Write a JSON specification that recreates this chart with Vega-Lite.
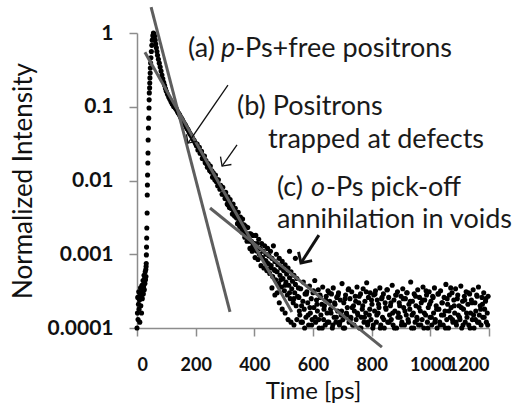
{
  "$schema": "https://vega.github.io/schema/vega-lite/v6.json",
  "width": 352,
  "height": 295,
  "autosize": {"type": "none"},
  "padding": {"left": 137, "top": 33, "right": 36, "bottom": 79},
  "background": "white",
  "config": {"view": {"stroke": null}, "font": "Lato"},
  "datasets": {
    "points": [
      {"t":0,"v":0.0001},{"t":1.5,"v":0.00016},{"t":2.5,"v":0.00026},{"t":3.5,"v":0.00013},{"t":5,"v":0.00021},{"t":6,"v":0.00031},{"t":7,"v":0.00018},{"t":8.5,"v":0.00024},{"t":9.5,"v":0.00012},{"t":11,"v":0.00028},{"t":12,"v":0.00035},{"t":13,"v":0.0002},{"t":14.5,"v":0.00027},{"t":15.5,"v":0.00016},{"t":17,"v":0.00038},{"t":18,"v":0.00025},{"t":19,"v":0.00031},{"t":20.5,"v":0.00044},{"t":21.5,"v":0.00029},{"t":22.5,"v":0.00036},{"t":24,"v":0.00052},{"t":25,"v":0.00033},{"t":26,"v":0.00047},{"t":27,"v":0.0004},{"t":28,"v":0.00058},{"t":29,"v":0.00045},{"t":30,"v":0.00062},{"t":30.5,"v":0.0005},{"t":31,"v":0.00068},{"t":31.5,"v":0.00075},
      {"t":32,"v":0.00098},{"t":32.5,"v":0.00125},{"t":33,"v":0.00166},{"t":33.5,"v":0.00227},{"t":34.5,"v":0.00362},{"t":35,"v":0.00636},{"t":35.5,"v":0.0087},{"t":36,"v":0.0119},{"t":37,"v":0.0173},{"t":37.5,"v":0.0236},{"t":38,"v":0.0354},{"t":39,"v":0.0515},{"t":40,"v":0.07},{"t":41,"v":0.096},{"t":41.5,"v":0.124},{"t":42,"v":0.154},{"t":43,"v":0.18},{"t":43.5,"v":0.21},{"t":44,"v":0.246},{"t":45,"v":0.287},{"t":45.5,"v":0.335},{"t":46.5,"v":0.392},{"t":47.5,"v":0.46},{"t":49,"v":0.56},{"t":50.5,"v":0.68},{"t":52,"v":0.8},{"t":54,"v":0.92},{"t":56,"v":1.0},{"t":58,"v":0.97},
      {"t":60,"v":0.9},{"t":62,"v":0.8},{"t":64,"v":0.71},{"t":66,"v":0.63},{"t":68,"v":0.56},{"t":70,"v":0.5},{"t":73,"v":0.44},{"t":76,"v":0.39},{"t":79,"v":0.345},{"t":82,"v":0.305},{"t":85,"v":0.27},{"t":88,"v":0.24},{"t":91,"v":0.215},{"t":94,"v":0.195},{"t":97,"v":0.177},{"t":100,"v":0.162},{"t":104,"v":0.148},{"t":108,"v":0.136},{"t":112,"v":0.126},{"t":116,"v":0.117},{"t":120,"v":0.109},{"t":125,"v":0.101},
      {"t":130,"v":0.097},{"t":132.5,"v":0.094},{"t":135,"v":0.092},{"t":137.5,"v":0.087},{"t":140,"v":0.083},{"t":142.5,"v":0.081},{"t":145,"v":0.078},{"t":147.5,"v":0.074},{"t":150,"v":0.071},{"t":152.5,"v":0.069},{"t":155,"v":0.066},{"t":157.5,"v":0.063},{"t":160,"v":0.0605},{"t":162.5,"v":0.058},{"t":165,"v":0.0565},{"t":167.5,"v":0.054},{"t":170,"v":0.0512},{"t":172.5,"v":0.05},{"t":175,"v":0.048},{"t":177.5,"v":0.0455},{"t":180,"v":0.0435},{"t":182.5,"v":0.042},{"t":185,"v":0.0408},{"t":187.5,"v":0.039},{"t":190,"v":0.037},{"t":192.5,"v":0.0357},{"t":195,"v":0.0347},{"t":197.5,"v":0.033},{"t":200,"v":0.0315},
      {"t":202.5,"v":0.0296},{"t":205,"v":0.0311},{"t":207.5,"v":0.0259},{"t":210,"v":0.0278},{"t":212.5,"v":0.0282},{"t":215,"v":0.0234},{"t":217.5,"v":0.0237},{"t":220,"v":0.0248},{"t":222.5,"v":0.0199},{"t":225,"v":0.0216},{"t":227.5,"v":0.0195},{"t":230,"v":0.0215},{"t":232.5,"v":0.0174},{"t":235,"v":0.0187},{"t":237.5,"v":0.0168},{"t":240,"v":0.0151},{"t":242.5,"v":0.017},{"t":245,"v":0.0153},{"t":247.5,"v":0.0137},{"t":250,"v":0.0157},{"t":252.5,"v":0.013},{"t":255,"v":0.0135},{"t":257.5,"v":0.0111},{"t":260,"v":0.0127},{"t":262.5,"v":0.0115},{"t":265,"v":0.0102},{"t":267.5,"v":0.0119},{"t":270,"v":0.0097},{"t":272.5,"v":0.0103},{"t":275,"v":0.0085},{"t":277.5,"v":0.0102},{"t":280,"v":0.0085},{"t":282.5,"v":0.0076},{"t":285,"v":0.0086},{"t":287.5,"v":0.0077},{"t":290,"v":0.0065},{"t":292.5,"v":0.0081},{"t":295,"v":0.0065},{"t":297.5,"v":0.0068},{"t":300,"v":0.0057},
      {"t":302.5,"v":0.0069},{"t":305,"v":0.0056},{"t":307.5,"v":0.0048},{"t":310,"v":0.006},{"t":312.5,"v":0.0052},{"t":315,"v":0.0043},{"t":317.5,"v":0.0055},{"t":320,"v":0.0042},{"t":322.5,"v":0.0047},{"t":325,"v":0.0035},{"t":327.5,"v":0.0048},{"t":330,"v":0.0038},{"t":332.5,"v":0.0033},{"t":335,"v":0.0042},{"t":337.5,"v":0.0032},{"t":340,"v":0.0036},{"t":342.5,"v":0.0026},{"t":345,"v":0.0037},{"t":347.5,"v":0.0028},{"t":350,"v":0.0024},{"t":352.5,"v":0.0032},{"t":355,"v":0.0027},{"t":357.5,"v":0.002},{"t":360,"v":0.003},{"t":362.5,"v":0.0021},{"t":365,"v":0.0025},{"t":367.5,"v":0.0017},{"t":370,"v":0.0024},{"t":372.5,"v":0.0019},{"t":375,"v":0.0015},{"t":377.5,"v":0.0023},{"t":380,"v":0.0016},{"t":382.5,"v":0.0019},{"t":385,"v":0.0012},{"t":387.5,"v":0.0019},{"t":390,"v":0.0015},{"t":392.5,"v":0.0011},{"t":395,"v":0.0018},{"t":397.5,"v":0.0012},{"t":400,"v":0.0014},
      {"t":310,"v":0.0047},{"t":325,"v":0.0041},{"t":340,"v":0.0031},{"t":355,"v":0.0023},{"t":370,"v":0.0018},{"t":385,"v":0.0015},{"t":395,"v":0.0013},{"t":410,"v":0.00115},{"t":425,"v":0.0009},{"t":440,"v":0.0008},{"t":455,"v":0.00065},{"t":470,"v":0.0006},{"t":490,"v":0.00045},{"t":505,"v":0.00038},{"t":520,"v":0.0003},{"t":535,"v":0.00025},
      {"t":402.5,"v":0.0009},{"t":405,"v":0.0018},{"t":407.5,"v":0.0011},{"t":410,"v":0.0014},{"t":412.5,"v":0.00085},{"t":415,"v":0.0016},{"t":417.5,"v":0.001},{"t":420,"v":0.0012},{"t":422.5,"v":0.0007},{"t":425,"v":0.0014},{"t":427.5,"v":0.0009},{"t":430,"v":0.0011},{"t":432.5,"v":0.00065},{"t":435,"v":0.0013},{"t":437.5,"v":0.00082},{"t":440,"v":0.001},{"t":442.5,"v":0.0006},{"t":445,"v":0.0012},{"t":447.5,"v":0.00075},{"t":450,"v":0.00095},{"t":452.5,"v":0.00055},{"t":455,"v":0.0011},{"t":457.5,"v":0.0007},{"t":460,"v":0.00088},{"t":462.5,"v":0.0005},{"t":465,"v":0.0013},{"t":467.5,"v":0.00062},{"t":470,"v":0.0008},{"t":472.5,"v":0.00045},{"t":475,"v":0.001},{"t":477.5,"v":0.00058},{"t":480,"v":0.00072},{"t":482.5,"v":0.0004},{"t":485,"v":0.00088},{"t":487.5,"v":0.00052},{"t":490,"v":0.00065},{"t":492.5,"v":0.00036},{"t":495,"v":0.0008},{"t":497.5,"v":0.00047},{"t":500,"v":0.0006},{"t":502.5,"v":0.00032},{"t":505,"v":0.00072},{"t":507.5,"v":0.00042},{"t":510,"v":0.00054},{"t":512.5,"v":0.00028},{"t":515,"v":0.00065},{"t":517.5,"v":0.00038},{"t":520,"v":0.00048},{"t":522.5,"v":0.00025},{"t":525,"v":0.00058},{"t":527.5,"v":0.00034},{"t":530,"v":0.00043},{"t":532.5,"v":0.00022},{"t":535,"v":0.00052},{"t":537.5,"v":0.0003},{"t":540,"v":0.00039},{"t":542.5,"v":0.0002},{"t":545,"v":0.00047},{"t":547.5,"v":0.00027},{"t":550,"v":0.00035},
      {"t":540,"v":0.00088},{"t":520,"v":0.0011},{"t":485,"v":0.00022},{"t":495,"v":0.00018},{"t":505,"v":0.00016},{"t":515,"v":0.00013},{"t":525,"v":0.00012},{"t":535,"v":0.00011},{"t":545,"v":0.00013},{"t":470,"v":0.00028},{"t":460,"v":0.00035},{"t":478,"v":0.0003},
      {"t":552,"v":0.00026},{"t":555,"v":0.00015},{"t":558,"v":0.00034},{"t":561,"v":0.0002},{"t":564,"v":0.00012},{"t":567,"v":0.00042},{"t":570,"v":0.00018},{"t":573,"v":0.00029},{"t":576,"v":0.00014},{"t":579,"v":0.00031},
      {"t":582,"v":0.00022},{"t":585,"v":0.00011},{"t":588,"v":0.00037},{"t":591,"v":0.00016},{"t":594,"v":0.00025},{"t":597,"v":0.00013},{"t":600,"v":0.0003},{"t":603,"v":0.00019},{"t":606,"v":0.00044},{"t":609,"v":0.00012},
      {"t":612,"v":0.00024},{"t":615,"v":0.00017},{"t":618,"v":0.00033},{"t":621,"v":0.0001},{"t":624,"v":0.00028},{"t":627,"v":0.00015},{"t":630,"v":0.00021},{"t":633,"v":0.00036},{"t":636,"v":0.00013},{"t":639,"v":0.0002},
      {"t":642,"v":0.00011},{"t":645,"v":0.00027},{"t":648,"v":0.00016},{"t":651,"v":0.00032},{"t":654,"v":0.00012},{"t":657,"v":0.00023},{"t":660,"v":0.00018},{"t":663,"v":0.00029},{"t":666,"v":0.0001},{"t":669,"v":0.00035},
      {"t":672,"v":0.00014},{"t":675,"v":0.00021},{"t":678,"v":0.00012},{"t":681,"v":0.00026},{"t":684,"v":0.00017},{"t":687,"v":0.0003},{"t":690,"v":0.00011},{"t":693,"v":0.00024},{"t":696,"v":0.00015},{"t":699,"v":0.0004},
      {"t":702,"v":0.00013},{"t":705,"v":0.00022},{"t":708,"v":0.0001},{"t":711,"v":0.00028},{"t":714,"v":0.00016},{"t":717,"v":0.00019},{"t":720,"v":0.00033},{"t":723,"v":0.00012},{"t":726,"v":0.00025},{"t":729,"v":0.00014},
      {"t":732,"v":0.00031},{"t":735,"v":0.00011},{"t":738,"v":0.0002},{"t":741,"v":0.00017},{"t":744,"v":0.00027},{"t":747,"v":0.00013},{"t":750,"v":0.00036},{"t":753,"v":0.00015},{"t":756,"v":0.00022},{"t":759,"v":0.0001},
      {"t":762,"v":0.00029},{"t":765,"v":0.00014},{"t":768,"v":0.00018},{"t":771,"v":0.00034},{"t":774,"v":0.00012},{"t":777,"v":0.00023},{"t":780,"v":0.00016},{"t":783,"v":0.00041},{"t":786,"v":0.00011},{"t":789,"v":0.00026},
      {"t":792,"v":0.00015},{"t":795,"v":0.0003},{"t":798,"v":0.00013},{"t":801,"v":0.00021},{"t":804,"v":0.0001},{"t":807,"v":0.00028},{"t":810,"v":0.00017},{"t":813,"v":0.00032},{"t":816,"v":0.00012},{"t":819,"v":0.00024},
      {"t":822,"v":0.00016},{"t":825,"v":0.00019},{"t":828,"v":0.00035},{"t":831,"v":0.00011},{"t":834,"v":0.00025},{"t":837,"v":0.00014},{"t":840,"v":0.00029},{"t":843,"v":0.0001},{"t":846,"v":0.00022},{"t":849,"v":0.00018},
      {"t":852,"v":0.00033},{"t":855,"v":0.00012},{"t":858,"v":0.00026},{"t":861,"v":0.00015},{"t":864,"v":0.0002},{"t":867,"v":0.00013},{"t":870,"v":0.00038},{"t":873,"v":0.00011},{"t":876,"v":0.00024},{"t":879,"v":0.00017},
      {"t":882,"v":0.00028},{"t":885,"v":0.0001},{"t":888,"v":0.00031},{"t":891,"v":0.00016},{"t":894,"v":0.00022},{"t":897,"v":0.00014},{"t":900,"v":0.00027},{"t":903,"v":0.00012},{"t":906,"v":0.00034},{"t":909,"v":0.00019},
      {"t":912,"v":0.00011},{"t":915,"v":0.00025},{"t":918,"v":0.00015},{"t":921,"v":0.0003},{"t":924,"v":0.00013},{"t":927,"v":0.00021},{"t":930,"v":0.00018},{"t":933,"v":0.00042},{"t":936,"v":0.0001},{"t":939,"v":0.00023},
      {"t":942,"v":0.00016},{"t":945,"v":0.00029},{"t":948,"v":0.00012},{"t":951,"v":0.0002},{"t":954,"v":0.00014},{"t":957,"v":0.00033},{"t":960,"v":0.00011},{"t":963,"v":0.00026},{"t":966,"v":0.00017},{"t":969,"v":0.00022},
      {"t":972,"v":0.00013},{"t":975,"v":0.00036},{"t":978,"v":0.0001},{"t":981,"v":0.00024},{"t":984,"v":0.00015},{"t":987,"v":0.00028},{"t":990,"v":0.00012},{"t":993,"v":0.00019},{"t":996,"v":0.00031},{"t":999,"v":0.00014},
      {"t":1002,"v":0.00023},{"t":1005,"v":0.00011},{"t":1008,"v":0.00027},{"t":1011,"v":0.00016},{"t":1014,"v":0.00035},{"t":1017,"v":0.00013},{"t":1020,"v":0.0002},{"t":1023,"v":0.0001},{"t":1026,"v":0.00029},{"t":1029,"v":0.00018},
      {"t":1032,"v":0.00012},{"t":1035,"v":0.00032},{"t":1038,"v":0.00015},{"t":1041,"v":0.00022},{"t":1044,"v":0.00011},{"t":1047,"v":0.00026},{"t":1050,"v":0.00017},{"t":1053,"v":0.00039},{"t":1056,"v":0.00013},{"t":1059,"v":0.00021},
      {"t":1062,"v":0.0001},{"t":1065,"v":0.00028},{"t":1068,"v":0.00014},{"t":1071,"v":0.00019},{"t":1074,"v":0.0003},{"t":1077,"v":0.00012},{"t":1080,"v":0.00024},{"t":1083,"v":0.00016},{"t":1086,"v":0.00034},{"t":1089,"v":0.00011},
      {"t":1092,"v":0.00025},{"t":1095,"v":0.00015},{"t":1098,"v":0.0002},{"t":1101,"v":0.00013},{"t":1104,"v":0.00037},{"t":1107,"v":0.0001},{"t":1110,"v":0.00023},{"t":1113,"v":0.00018},{"t":1116,"v":0.00027},{"t":1119,"v":0.00012},
      {"t":1122,"v":0.00031},{"t":1125,"v":0.00014},{"t":1128,"v":0.00021},{"t":1131,"v":0.00011},{"t":1134,"v":0.00029},{"t":1137,"v":0.00016},{"t":1140,"v":0.00024},{"t":1143,"v":0.00013},{"t":1146,"v":0.00033},{"t":1149,"v":0.0001},
      {"t":1152,"v":0.00022},{"t":1155,"v":0.00017},{"t":1158,"v":0.00028},{"t":1161,"v":0.00012},{"t":1164,"v":0.00036},{"t":1167,"v":0.00015},{"t":1170,"v":0.0002},{"t":1173,"v":0.00011},{"t":1176,"v":0.00026},{"t":1179,"v":0.00014},
      {"t":1182,"v":0.0003},{"t":1185,"v":0.00018},{"t":1188,"v":0.00023},{"t":1191,"v":0.00012},{"t":1194,"v":0.00016},{"t":1197,"v":0.00027},
      {"t":553.5,"v":0.00017},{"t":559.5,"v":0.00012},{"t":565.5,"v":0.00023},{"t":571.5,"v":0.0001},{"t":577.5,"v":0.00029},{"t":583.5,"v":0.00015},{"t":589.5,"v":0.00019},{"t":595.5,"v":0.00011},{"t":601.5,"v":0.00032},{"t":607.5,"v":0.00014},
      {"t":613.5,"v":0.00021},{"t":619.5,"v":0.00013},{"t":625.5,"v":0.00026},{"t":631.5,"v":0.0001},{"t":637.5,"v":0.00018},{"t":643.5,"v":0.00024},{"t":649.5,"v":0.00012},{"t":655.5,"v":0.0003},{"t":661.5,"v":0.00016},{"t":667.5,"v":0.00011},
      {"t":673.5,"v":0.00022},{"t":679.5,"v":0.00014},{"t":685.5,"v":0.00028},{"t":691.5,"v":0.00012},{"t":697.5,"v":0.00017},{"t":703.5,"v":0.0001},{"t":709.5,"v":0.00025},{"t":715.5,"v":0.00015},{"t":721.5,"v":0.00034},{"t":727.5,"v":0.00013},
      {"t":733.5,"v":0.00019},{"t":739.5,"v":0.00011},{"t":745.5,"v":0.00023},{"t":751.5,"v":0.00016},{"t":757.5,"v":0.00027},{"t":763.5,"v":0.0001},{"t":769.5,"v":0.0002},{"t":775.5,"v":0.00014},{"t":781.5,"v":0.00031},{"t":787.5,"v":0.00012},
      {"t":793.5,"v":0.00018},{"t":799.5,"v":0.00024},{"t":805.5,"v":0.00011},{"t":811.5,"v":0.00029},{"t":817.5,"v":0.00015},{"t":823.5,"v":0.00021},{"t":829.5,"v":0.0001},{"t":835.5,"v":0.00026},{"t":841.5,"v":0.00013},{"t":847.5,"v":0.00019},
      {"t":853.5,"v":0.00033},{"t":859.5,"v":0.00012},{"t":865.5,"v":0.00022},{"t":871.5,"v":0.00016},{"t":877.5,"v":0.0001},{"t":883.5,"v":0.00028},{"t":889.5,"v":0.00014},{"t":895.5,"v":0.0002},{"t":901.5,"v":0.00011},{"t":907.5,"v":0.00025},
      {"t":913.5,"v":0.00017},{"t":919.5,"v":0.0003},{"t":925.5,"v":0.00012},{"t":931.5,"v":0.00023},{"t":937.5,"v":0.00015},{"t":943.5,"v":0.0001},{"t":949.5,"v":0.00027},{"t":955.5,"v":0.00013},{"t":961.5,"v":0.00019},{"t":967.5,"v":0.00011},
      {"t":973.5,"v":0.00024},{"t":979.5,"v":0.00016},{"t":985.5,"v":0.00032},{"t":991.5,"v":0.0001},{"t":997.5,"v":0.00021},{"t":1003.5,"v":0.00014},{"t":1009.5,"v":0.00026},{"t":1015.5,"v":0.00012},{"t":1021.5,"v":0.00018},{"t":1027.5,"v":0.00029},
      {"t":1033.5,"v":0.00011},{"t":1039.5,"v":0.00022},{"t":1045.5,"v":0.00015},{"t":1051.5,"v":0.0001},{"t":1057.5,"v":0.00025},{"t":1063.5,"v":0.00017},{"t":1069.5,"v":0.00035},{"t":1075.5,"v":0.00013},{"t":1081.5,"v":0.0002},{"t":1087.5,"v":0.00012},
      {"t":1093.5,"v":0.00028},{"t":1099.5,"v":0.00014},{"t":1105.5,"v":0.00019},{"t":1111.5,"v":0.00011},{"t":1117.5,"v":0.00024},{"t":1123.5,"v":0.00016},{"t":1129.5,"v":0.0003},{"t":1135.5,"v":0.0001},{"t":1141.5,"v":0.00022},{"t":1147.5,"v":0.00015},
      {"t":1153.5,"v":0.00013},{"t":1159.5,"v":0.00027},{"t":1165.5,"v":0.00012},{"t":1171.5,"v":0.00018},{"t":1177.5,"v":0.00021},{"t":1183.5,"v":0.00014},{"t":1189.5,"v":0.00025},{"t":1195.5,"v":0.00011}
    ],
    "fits": [
      {"c":"a","t":48,"v":2.25},{"c":"a","t":317,"v":0.000165},
      {"c":"b","t":27,"v":0.55},{"c":"b","t":528,"v":0.000165},
      {"c":"c","t":249,"v":0.00424},{"c":"c","t":835,"v":0.000055}
    ],
    "arrows": [
      {"id":"a","t":310,"v":0.197,"t2":174,"v2":0.0322},
      {"id":"b","t":341,"v":0.0303,"t2":290,"v2":0.0157},
      {"id":"c","t":620,"v":0.00182,"t2":559,"v2":0.00076}
    ],
    "labels": [
      {"t":174,"v":0.473,"text":"(a)"},
      {"t":286,"v":0.473,"text":"p"},
      {"t":334,"v":0.473,"text":"-Ps+free positrons"},
      {"t":341,"v":0.0773,"text":"(b) Positrons"},
      {"t":447,"v":0.0275,"text":"trapped at defects"},
      {"t":477,"v":0.00616,"text":"(c)"},
      {"t":593,"v":0.00616,"text":"o"},
      {"t":644,"v":0.00616,"text":"-Ps pick-off"},
      {"t":477,"v":0.00229,"text":"annihilation in voids"}
    ]
  },
  "encoding": {
    "x": {"field": "t", "type": "quantitative",
      "scale": {"domain": [0, 1200], "nice": false, "zero": false},
      "axis": {"values": [0, 200, 400, 600, 800, 1000, 1200], "format": "d", "grid": false, "labelOverlap": false,
        "title": "Time [ps]", "titleFont": "Lato", "titleFontSize": 24, "titleFontWeight": "normal", "titleColor": "#111", "titlePadding": 5,
        "labelFont": "Lato", "labelFontSize": 18, "labelFontWeight": "bold", "labelColor": "#111", "labelPadding": 20,
        "domainColor": "#8c8c8c", "domainWidth": 1.5, "tickColor": "#8c8c8c", "tickWidth": 1.5, "tickSize": 8}},
    "y": {"field": "v", "type": "quantitative",
      "scale": {"type": "log", "domain": [0.0001, 1], "nice": false},
      "axis": {"values": [0.0001, 0.001, 0.01, 0.1, 1], "format": "~g", "grid": false, "labelOverlap": false,
        "title": "Normalized Intensity", "titleFont": "Lato", "titleFontSize": 26, "titleFontWeight": "normal", "titleColor": "#111", "titlePadding": 11,
        "labelFont": "Lato", "labelFontSize": 21, "labelFontWeight": "bold", "labelColor": "#111", "labelPadding": 16,
        "domainColor": "#8c8c8c", "domainWidth": 1.5, "tickColor": "#8c8c8c", "tickWidth": 1.5, "tickSize": 8}}
  },
  "layer": [
    {"data": {"name": "points"}, "mark": {"type": "point", "filled": true, "color": "#000", "opacity": 1, "size": 26, "clip": false}},
    {"data": {"name": "fits"}, "mark": {"type": "line", "color": "#5e5e5e", "strokeWidth": 3, "clip": false}, "encoding": {"detail": {"field": "c"}}},
    {"data": {"name": "arrows"}, "transform": [{"filter": "datum.id != 'c'"}], "mark": {"type": "rule", "color": "#111", "strokeWidth": 1.3, "clip": false},
      "encoding": {"x2": {"field": "t2"}, "y2": {"field": "v2"}}},
    {"data": {"name": "arrows"}, "transform": [{"filter": "datum.id == 'c'"}], "mark": {"type": "rule", "color": "#111", "strokeWidth": 3, "clip": false},
      "encoding": {"x2": {"field": "t2"}, "y2": {"field": "v2"}}},
    {"data": {"name": "arrows"}, "transform": [{"filter": "datum.id == 'a'"}], "mark": {"type": "point", "shape": "M-1,-1L0,0L-1,1", "filled": false, "color": "#111", "strokeWidth": 1.3, "size": 160, "angle": 124.6, "opacity": 1, "clip": false},
      "encoding": {"x": {"field": "t2", "type": "quantitative"}, "y": {"field": "v2", "type": "quantitative"}}},
    {"data": {"name": "arrows"}, "transform": [{"filter": "datum.id == 'b'"}], "mark": {"type": "point", "shape": "M-1,-1L0,0L-1,1", "filled": false, "color": "#111", "strokeWidth": 1.3, "size": 180, "angle": 125.5, "opacity": 1, "clip": false},
      "encoding": {"x": {"field": "t2", "type": "quantitative"}, "y": {"field": "v2", "type": "quantitative"}}},
    {"data": {"name": "arrows"}, "transform": [{"filter": "datum.id == 'c'"}], "mark": {"type": "point", "shape": "M-1,-1L0,0L-1,1", "filled": false, "color": "#111", "strokeWidth": 3, "size": 260, "angle": 122.7, "opacity": 1, "clip": false},
      "encoding": {"x": {"field": "t2", "type": "quantitative"}, "y": {"field": "v2", "type": "quantitative"}}},
    {"data": {"name": "labels"}, "transform": [{"filter": "datum.text != 'p' && datum.text != 'o'"}], "mark": {"type": "text", "align": "left", "baseline": "alphabetic", "font": "Lato", "fontSize": 27, "color": "#1a1a1a", "clip": false},
      "encoding": {"text": {"field": "text"}}},
    {"data": {"name": "labels"}, "transform": [{"filter": "datum.text == 'p' || datum.text == 'o'"}], "mark": {"type": "text", "align": "left", "baseline": "alphabetic", "font": "Lato", "fontSize": 27, "fontStyle": "italic", "color": "#1a1a1a", "clip": false},
      "encoding": {"text": {"field": "text"}}}
  ]
}
